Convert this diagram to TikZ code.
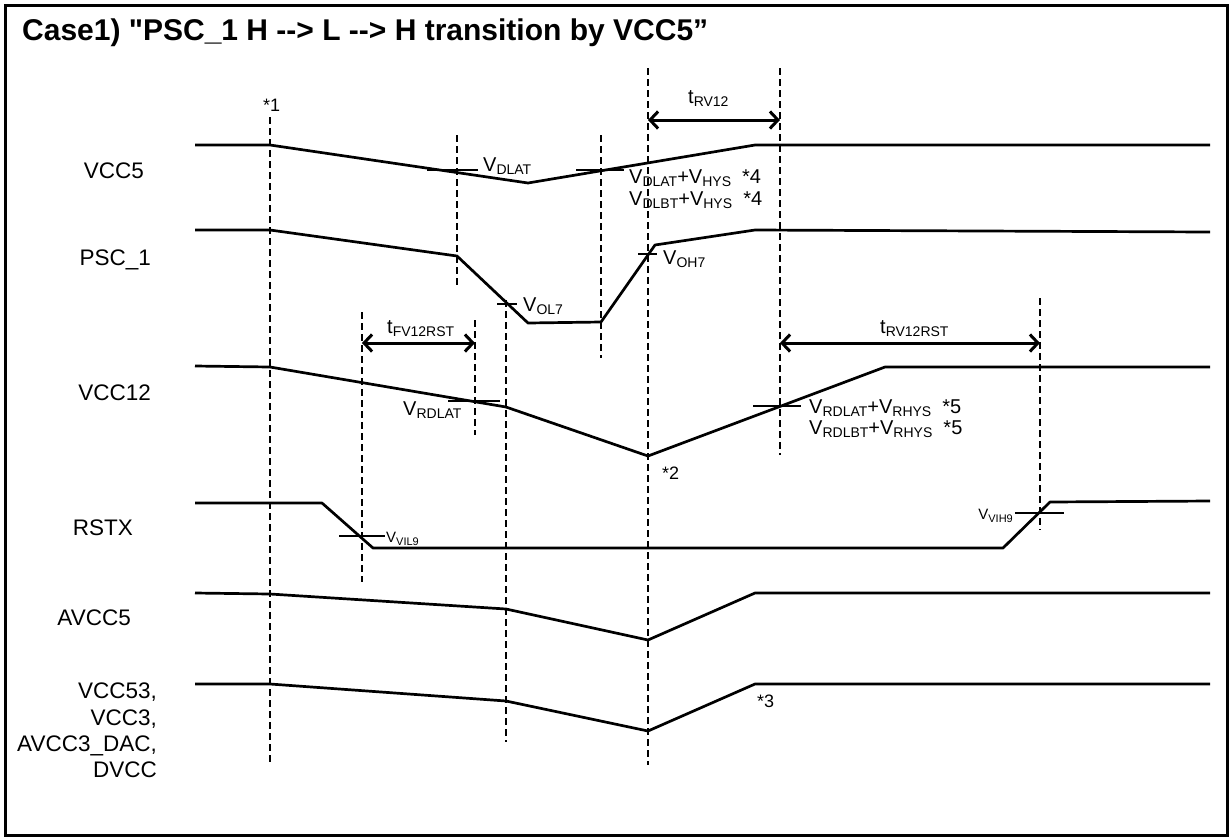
\documentclass[tikz,border=0pt]{standalone}
\usepackage{fontspec}
\setmainfont{Liberation Sans}
\newfontfamily\titlefont{Liberation Sans}
\usetikzlibrary{arrows.meta}
\newcommand{\lsub}[2][14]{\raisebox{-3pt}{\fontsize{#1}{#1}\selectfont #2}}
\begin{document}
\begin{tikzpicture}[x=1pt,y=-1pt,
  sig/.style={line width=2.7pt, line join=round},
  vgrid/.style={line width=1.6pt, dash pattern=on 7pt off 4pt},
  tickmark/.style={line width=2pt},
  dimline/.style={line width=3pt, {Straight Barb[length=8pt,width=17pt,line width=3pt]}-{Straight Barb[length=8pt,width=17pt,line width=3pt]}},
  sname/.style={font=\fontsize{22.5}{27}\selectfont, inner sep=0pt, anchor=base east},
  vlab/.style={font=\fontsize{20}{22}\selectfont, inner sep=0pt, anchor=base west},
  slab/.style={font=\fontsize{15}{17}\selectfont, inner sep=0pt},
  note/.style={font=\fontsize{18}{20}\selectfont, inner sep=0pt, anchor=base west},
  ]
\useasboundingbox (0,0) rectangle (1231,839);
\draw[line width=3pt] (5,5) rectangle (1227,835);

\node[anchor=base west, font=\titlefont\bfseries\fontsize{30}{34}\selectfont, inner sep=0pt] (title) at (22,40)
  {Case1) "PSC\_1 H --> L --> H transition by VCC5”};

% signal names
\node[sname] (nVCC5) at (144,178) {VCC5};
\node[sname] (nPSC) at (151,265) {PSC\_1};
\node[sname] (nVCC12) at (151,400) {VCC12};
\node[sname] (nRSTX) at (133,535) {RSTX};
\node[sname] (nAVCC5) at (131,625) {AVCC5};
\node[font=\fontsize{22.5}{26.3}\selectfont, inner sep=0pt, align=right, anchor=north east] (nVCC53) at (157,683)
  {VCC53,\\VCC3,\\AVCC3\_DAC,\\DVCC};

% vertical dashed guides
\coordinate (g1t) at (270,117);  \coordinate (g1b) at (270,762);
\coordinate (g2t) at (457,135);  \coordinate (g2b) at (457,285);
\coordinate (g3t) at (601,135);  \coordinate (g3b) at (601,358);
\coordinate (g4t) at (648,68);   \coordinate (g4b) at (648,765);
\coordinate (g5t) at (780,68);   \coordinate (g5b) at (780,455);
\coordinate (g6t) at (362,312);  \coordinate (g6b) at (362,582);
\coordinate (g7t) at (475,320);  \coordinate (g7b) at (475,435);
\coordinate (g8t) at (506,300);  \coordinate (g8b) at (506,742);
\coordinate (g9t) at (1040,298); \coordinate (g9b) at (1040,530);
\foreach \g in {1,...,9} \draw[vgrid] (g\g t) -- (g\g b);

% signals
\draw[sig] (195,145) -- (270,145) -- (528,183) -- (755,145) -- (1210,145);
\draw[sig] (195,230) -- (270,230) -- (457,256) -- (528,323) -- (601,322) -- (655,245) -- (755,230) -- (1210,232);
\draw[sig] (195,366) -- (270,367) -- (506,407) -- (648,456) -- (885,367) -- (1210,367);
\draw[sig] (195,503) -- (322,503) -- (373,548) -- (1003,548) -- (1050,502) -- (1210,501);
\draw[sig] (195,593) -- (270,594) -- (506,609) -- (648,640) -- (755,593) -- (1210,593);
\draw[sig] (195,684) -- (270,684) -- (506,701) -- (648,731) -- (755,684) -- (1210,684);

% threshold ticks
\draw[tickmark] (427,170) -- (478,170);
\draw[tickmark] (576,170) -- (624,170);
\draw[tickmark] (497,304) -- (517,304);
\draw[tickmark] (638,254) -- (657,254);
\draw[tickmark] (448,401) -- (500,401);
\draw[tickmark] (753,406) -- (801,406);
\draw[tickmark] (339,536) -- (385,536);
\draw[tickmark] (1015,513) -- (1064,513);

% threshold labels
\node[vlab] (lDLAT) at (483,171) {V\lsub{DLAT}};
\node[vlab] (lHYS1) at (629,183) {V\lsub{DLAT}+V\lsub{HYS}\ \ *4};
\node[vlab] (lHYS2) at (629,205) {V\lsub{DLBT}+V\lsub{HYS}\ \ *4};
\node[vlab] (lOL7) at (523,311) {V\lsub{OL7}};
\node[vlab] (lOH7) at (663,264) {V\lsub{OH7}};
\node[vlab] (lRDLAT) at (403,415) {V\lsub{RDLAT}};
\node[vlab] (lRHYS1) at (809,413) {V\lsub{RDLAT}+V\lsub{RHYS}\ \ *5};
\node[vlab] (lRHYS2) at (809,434) {V\lsub{RDLBT}+V\lsub{RHYS}\ \ *5};
\node[slab, anchor=base west] (lVIL9) at (386,542) {V\lsub[11]{VIL9}};
\node[slab, anchor=base east] (lVIH9) at (1013,519) {V\lsub[11]{VIH9}};

% notes
\node[note] (n1) at (263,111) {*1};
\node[note] (n2) at (662,479) {*2};
\node[note] (n3) at (757,707) {*3};

% timing arrows
\coordinate (aRVl) at (648,120);  \coordinate (aRVr) at (780,120);
\draw[dimline] (aRVl) -- (aRVr);
\node[vlab] (tRV12) at (688,103) {t\lsub{RV12}};
\coordinate (aFVl) at (362,343);  \coordinate (aFVr) at (475,343);
\draw[dimline] (aFVl) -- (aFVr);
\node[vlab] (tFV) at (387,333) {t\lsub{FV12RST}};
\coordinate (aRRl) at (780,343);  \coordinate (aRRr) at (1040,343);
\draw[dimline] (aRRl) -- (aRRr);
\node[vlab] (tRR) at (880,333) {t\lsub{RV12RST}};
\end{tikzpicture}
\end{document}
